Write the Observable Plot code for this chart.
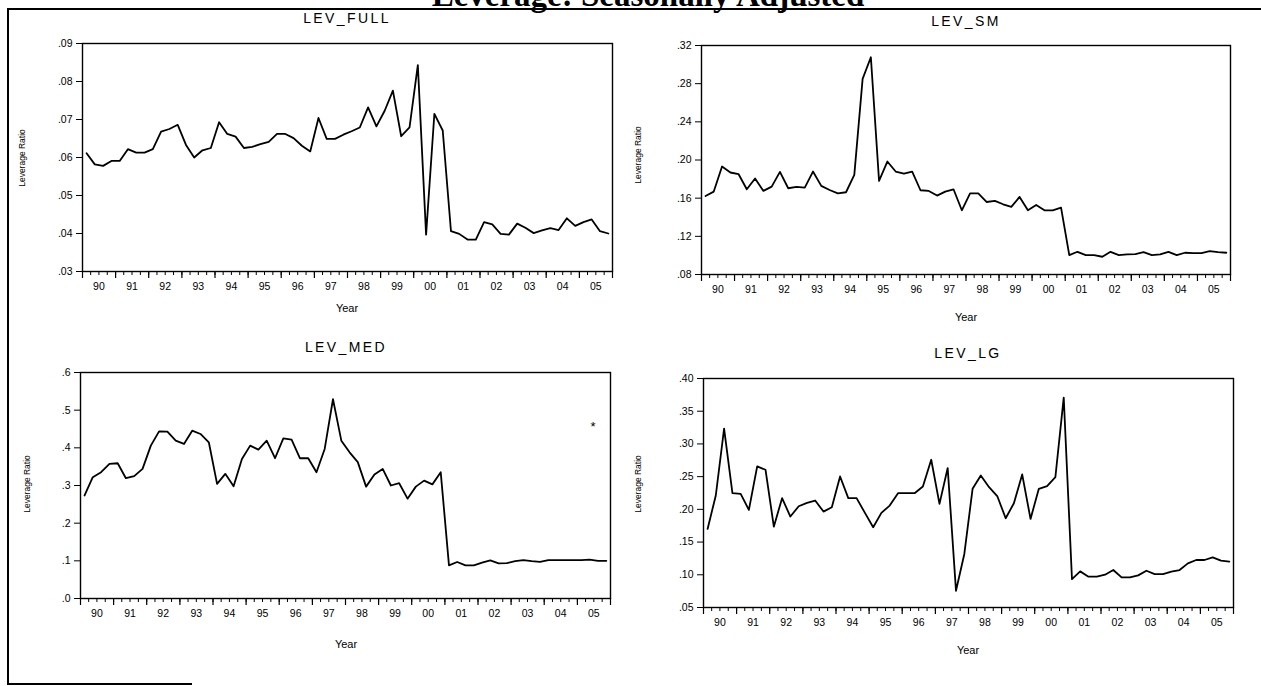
<!DOCTYPE html>
<html>
<head>
<meta charset="utf-8">
<script src="https://cdn.jsdelivr.net/npm/d3@7"></script>
<script src="https://cdn.jsdelivr.net/npm/@observablehq/plot@0.6"></script>
<style>
  html, body { margin: 0; padding: 0; background: #fff; }
  body { width: 1261px; height: 686px; overflow: hidden; position: relative;
         font-family: "Liberation Sans", Arial, sans-serif; color: #000; }
  .abs { position: absolute; }
  .c { transform: translate(-50%, -50%); white-space: nowrap; }
  .ptitle { font-size: 14px; letter-spacing: 2.4px; }
  .xlab { font-size: 11px; }
  .ylab { font-size: 8.5px; transform: translate(-50%, -50%) rotate(-90deg); white-space: nowrap; }
  .main { left: 0; width: 1296px; text-align: center; line-height: 28px;
          font-family: "Liberation Serif", "DejaVu Serif", serif; font-weight: bold; font-size: 33px; }
  .line { background: #000; }
</style>
</head>
<body>
<script>
// ---------------- data ----------------
const mainTitle = "Leverage: Seasonally Adjusted";
const yearLabels = ["90","91","92","93","94","95","96","97","98","99","00","01","02","03","04","05"];
const firstYear = 1990;
const panelTitles = ["LEV_FULL", "LEV_SM", "LEV_MED", "LEV_LG"];
const xAxisLabel = "Year";
const yAxisLabel = "Leverage Ratio";

// quarterly observations 1990Q1 - 2005Q4
const levFull = [.0611,.0582,.0578,.0591,.0591,.0622,.0613,.0613,.0622,.0668,
                 .0675,.0686,.0633,.0600,.0619,.0625,.0693,.0662,.0655,.0625,
                 .0628,.0635,.0641,.0662,.0662,.0651,.0631,.0616,.0704,.0649,
                 .0649,.0660,.0669,.0679,.0732,.0682,.0723,.0776,.0656,.0679,
                 .0843,.0397,.0715,.0671,.0406,.0399,.0384,.0384,.0430,.0424,
                 .0399,.0397,.0426,.0415,.0401,.0408,.0414,.0409,.0440,.0420,
                 .0430,.0437,.0406,.0400];
const levSm = [.1623,.1669,.1932,.1869,.1851,.1693,.1806,.1676,.1721,.1876,
               .1704,.1718,.1711,.1879,.1729,.1686,.1651,.1662,.1844,.2850,
               .3077,.1781,.1984,.1879,.1858,.1879,.1683,.1676,.1627,.1669,
               .1693,.1473,.1651,.1651,.1560,.1571,.1536,.1508,.1613,.1473,
               .1529,.1473,.1473,.1501,.1003,.1038,.1003,.1003,.0986,.1038,
               .1003,.1010,.1014,.1035,.1003,.1010,.1038,.1003,.1028,.1024,
               .1024,.1045,.1035,.1028];
const levMed = [.2735,.3221,.3353,.3574,.3591,.3194,.3247,.3441,.4059,.4438,
                .4429,.4191,.4103,.4456,.4368,.4147,.3044,.3309,.2982,.3706,
                .4059,.3953,.4191,.3724,.4253,.4218,.3724,.3724,.3350,.3970,
                .5290,.4190,.3880,.3620,.2970,.3290,.3440,.3000,.3060,.2650,
                .2970,.3130,.3030,.3350,.0880,.0970,.0880,.0880,.0950,.1010,
                .0930,.0940,.0990,.1020,.0990,.0970,.1020,.1020,.1020,.1020,
                .1020,.1030,.1000,.1000];
const levLg = [.1701,.2212,.3234,.2247,.2237,.1992,.2656,.2605,.1736,.2171,
               .1890,.2048,.2099,.2135,.1966,.2033,.2503,.2171,.2171,.1946,
               .1726,.1946,.2058,.2247,.2247,.2247,.2350,.2758,.2084,.2631,
               .0756,.1318,.2314,.2518,.2339,.2197,.1864,.2094,.2534,.1854,
               .2314,.2355,.2493,.3709,.0934,.1052,.0971,.0971,.1001,.1073,
               .0960,.0960,.0991,.1062,.1011,.1011,.1047,.1073,.1175,.1226,
               .1226,.1267,.1216,.1200];

const yTicksFull = [.03,.04,.05,.06,.07,.08,.09];
const yTicksSm   = [.08,.12,.16,.20,.24,.28,.32];
const yTicksMed  = [0,.1,.2,.3,.4,.5,.6];
const yTicksLg   = [.05,.10,.15,.20,.25,.30,.35,.40];

// ---------------- layout ----------------
const panels = [
  {series: levFull, ticks: yTicksFull, dec: 2, title: panelTitles[0],
   left: 0, top: 0, width: 640, height: 330, mL: 82, mR: 28, mT: 43, mB: 59,
   titleXY: [347, 18], yearXY: [347, 308], ylabXY: [22, 158]},
  {series: levSm, ticks: yTicksSm, dec: 2, title: panelTitles[1],
   left: 630, top: 0, width: 631, height: 330, mL: 71, mR: 31, mT: 45, mB: 56,
   titleXY: [966, 21], yearXY: [966, 317], ylabXY: [638, 155]},
  {series: levMed, ticks: yTicksMed, dec: 1, title: panelTitles[2],
   left: 0, top: 330, width: 640, height: 340, mL: 80, mR: 30, mT: 42, mB: 72,
   titleXY: [346, 347], yearXY: [346, 644], ylabXY: [27, 484]},
  {series: levLg, ticks: yTicksLg, dec: 2, title: panelTitles[3],
   left: 630, top: 330, width: 631, height: 340, mL: 73, mR: 28, mT: 48, mB: 63,
   titleXY: [968, 353], yearXY: [968, 650], ylabXY: [638, 484]}
];

const nYears = yearLabels.length;
const qStart = (i) => new Date(Date.UTC(firstYear + Math.floor(i / 4), (i % 4) * 3, 1));
const qMid = (i) => new Date((qStart(i).getTime() + qStart(i + 1).getTime()) / 2);
const x0 = new Date(Date.UTC(firstYear, 0, 1));
const x1 = new Date(Date.UTC(firstYear + nYears, 0, 1));
const quarterTicks = d3.range(nYears * 4 + 1).map(qStart);
const yearTicks = d3.range(nYears + 1).map(k => new Date(Date.UTC(firstYear + k, 0, 1)));
const midYears = d3.range(nYears).map(k => new Date(Date.UTC(firstYear + k, 6, 1)));
const yearFmt = (d) => yearLabels[d.getUTCFullYear() - firstYear];

function el(cls, text, x, y, extra) {
  const d = document.createElement("div");
  d.className = "abs " + cls;
  d.textContent = text;
  d.style.left = x + "px";
  d.style.top = y + "px";
  if (extra) Object.assign(d.style, extra);
  document.body.appendChild(d);
  return d;
}

for (const p of panels) {
  const data = p.series.map((v, i) => ({date: qMid(i), value: v}));
  const fmt = (v) => d3.format("." + p.dec + "f")(v).replace(/^0/, "");
  const chart = Plot.plot({
    width: p.width, height: p.height,
    marginLeft: p.mL, marginRight: p.mR, marginTop: p.mT, marginBottom: p.mB,
    style: {fontFamily: "'Liberation Sans', Arial, sans-serif", fontSize: "10.5px",
            color: "#000", background: "transparent", overflow: "visible"},
    x: {type: "utc", domain: [x0, x1]},
    y: {domain: [p.ticks[0], p.ticks[p.ticks.length - 1]]},
    marks: [
      Plot.axisY({ticks: p.ticks, tickSize: 6, tickPadding: 4, tickFormat: fmt,
                  label: null, fontSize: 10.5, strokeWidth: 1}),
      Plot.axisX({ticks: quarterTicks, tickSize: 4, tickFormat: () => "", label: null, strokeWidth: 1}),
      Plot.axisX({ticks: yearTicks, tickSize: 7, tickFormat: () => "", label: null, strokeWidth: 1.2}),
      Plot.axisX({ticks: midYears, tickSize: 0, tickPadding: 11, tickFormat: yearFmt,
                  label: null, fontSize: 10.5}),
      Plot.frame({stroke: "#000", strokeWidth: 1.4}),
      Plot.line(data, {x: "date", y: "value", stroke: "#000", strokeWidth: 1.8})
    ]
  });
  const wrap = document.createElement("div");
  wrap.className = "abs";
  wrap.style.left = p.left + "px";
  wrap.style.top = p.top + "px";
  wrap.appendChild(chart);
  document.body.appendChild(wrap);

  el("c ptitle", p.title, p.titleXY[0], p.titleXY[1]);
  el("c xlab", xAxisLabel, p.yearXY[0], p.yearXY[1]);
  el("ylab", yAxisLabel, p.ylabXY[0], p.ylabXY[1]);
}

// stray mark in the LEV_MED panel
el("c", "*", 593, 426, {fontSize: "13px"});

// main title (cut off at the top edge, as in the scan) and page frame lines
el("main", mainTitle, 0, -19);
el("line", "", 7, 8, {width: "1254px", height: "1.5px"});
el("line", "", 7, 8, {width: "1.5px", height: "676px"});
el("line", "", 7, 683, {width: "185px", height: "1.5px"});
</script>
</body>
</html>
